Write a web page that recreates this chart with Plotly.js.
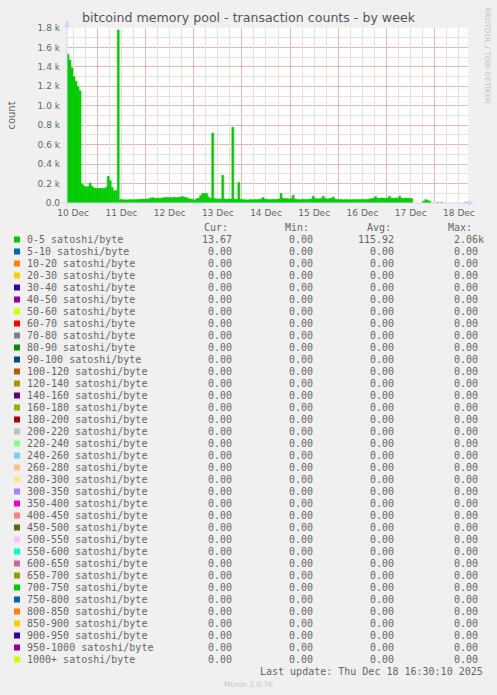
<!DOCTYPE html>
<html>
<head>
<meta charset="utf-8">
<script src="https://cdn.plot.ly/plotly-3.0.1.min.js"></script>
<style>
  html, body { margin: 0; padding: 0; background: #f0f0f0; }
  #chart { width: 497px; height: 695px; }
</style>
</head>
<body>
<div id="chart"></div>
<script>
// hourly averages of the 0-5 satoshi/byte series, starting 10 Dec 09:00 (null = no data)
const startHour = Date.UTC(2025, 11, 10, 9, 0);
const counts = [
  1530, 1470, 1390, 1300, 1250, 1195, 1155, 195, 175, 165,
  170, 205, 170, 155, 150, 150, 152, 150, 150, 160,
  275, 230, 160, 125, 130, 1780, 35, 35, 32, 32,
  33, 35, 33, 34, 36, 35, 38, 40, 40, 40,
  42, 50, 55, 50, 48, 50, 48, 52, 55, 58,
  55, 57, 55, 60, 55, 58, 62, 65, 60, 55,
  45, 40, 38, 25, 45, 50, 75, 97, 100, 95,
  60, 48, 720, 45, 42, 40, 42, 285, 40, 38,
  40, 42, 780, 40, 38, 210, 38, 35, 33, 32,
  33, 35, 33, 35, 34, 36, 40, 55, 40, 36,
  35, 35, 36, 35, 38, 40, 97, 50, 45, 45,
  42, 45, 80, 40, 35, 36, 35, 38, 36, 35,
  38, 40, 70, 45, 45, 42, 48, 70, 45, 42,
  45, 48, 62, 40, 35, 36, 35, 33, 35, 34,
  35, 33, 35, 36, 35, 34, 36, 38, 36, 35,
  40, 45, 48, 65, 50, 48, 52, 50, 48, 50,
  68, 50, 48, 52, 50, 70, 50, 48, 52, 50,
  48, 45, null, null, null, null, null, 20, 35, 25,
  20, null, null, null, 8, null, 8, null, null, null,
  null, null, null, null, null, null, null, null, 8, null
];

const seriesNames = [
  '0-5 satoshi/byte', '5-10 satoshi/byte', '10-20 satoshi/byte', '20-30 satoshi/byte',
  '30-40 satoshi/byte', '40-50 satoshi/byte', '50-60 satoshi/byte', '60-70 satoshi/byte',
  '70-80 satoshi/byte', '80-90 satoshi/byte', '90-100 satoshi/byte', '100-120 satoshi/byte',
  '120-140 satoshi/byte', '140-160 satoshi/byte', '160-180 satoshi/byte', '180-200 satoshi/byte',
  '200-220 satoshi/byte', '220-240 satoshi/byte', '240-260 satoshi/byte', '260-280 satoshi/byte',
  '280-300 satoshi/byte', '300-350 satoshi/byte', '350-400 satoshi/byte', '400-450 satoshi/byte',
  '450-500 satoshi/byte', '500-550 satoshi/byte', '550-600 satoshi/byte', '600-650 satoshi/byte',
  '650-700 satoshi/byte', '700-750 satoshi/byte', '750-800 satoshi/byte', '800-850 satoshi/byte',
  '850-900 satoshi/byte', '900-950 satoshi/byte', '950-1000 satoshi/byte', '1000+ satoshi/byte'
];
const seriesColors = [
  '#00CC00', '#0066B3', '#FF8000', '#FFCC00', '#330099', '#990099', '#CCFF00', '#FF0000',
  '#808080', '#008F00', '#00487D', '#B35A00', '#B38F00', '#6B006B', '#8FB300', '#B30000',
  '#BEBEBE', '#80FF80', '#80C9FF', '#FFC080', '#FFE680', '#AA80FF', '#EE00CC', '#FF8080',
  '#666600', '#FFBFFF', '#00FFCC', '#CC6699', '#999900', '#00CC00', '#0066B3', '#FF8000',
  '#FFCC00', '#330099', '#990099', '#CCFF00'
];
const curVals = [13.67, 0, 0, 0, 0, 0, 0, 0, 0, 0, 0, 0, 0, 0, 0, 0, 0, 0,
                 0, 0, 0, 0, 0, 0, 0, 0, 0, 0, 0, 0, 0, 0, 0, 0, 0, 0];
const minVals = [0, 0, 0, 0, 0, 0, 0, 0, 0, 0, 0, 0, 0, 0, 0, 0, 0, 0,
                 0, 0, 0, 0, 0, 0, 0, 0, 0, 0, 0, 0, 0, 0, 0, 0, 0, 0];
const avgVals = [115.92, 0, 0, 0, 0, 0, 0, 0, 0, 0, 0, 0, 0, 0, 0, 0, 0, 0,
                 0, 0, 0, 0, 0, 0, 0, 0, 0, 0, 0, 0, 0, 0, 0, 0, 0, 0];
const maxVals = [2060, 0, 0, 0, 0, 0, 0, 0, 0, 0, 0, 0, 0, 0, 0, 0, 0, 0,
                 0, 0, 0, 0, 0, 0, 0, 0, 0, 0, 0, 0, 0, 0, 0, 0, 0, 0];

const yTickVals = [0, 200, 400, 600, 800, 1000, 1200, 1400, 1600, 1800];
const yTickText = ['0.0', '0.2 k', '0.4 k', '0.6 k', '0.8 k', '1.0 k', '1.2 k', '1.4 k', '1.6 k', '1.8 k'];

const lastUpdate = 'Last update: Thu Dec 18 16:30:10 2025';

// plot box in page pixels
const PL = 67, PR = 468, PT = 28, PB = 203;
const px = X => (X - PL) / (PR - PL);
const py = Y => (PB - Y) / (PB - PT);

const fmt = v => v >= 1000 ? (v / 1000).toFixed(2) + 'k' : v.toFixed(2);

const xRange = ['2025-12-10 09:00', '2025-12-18 16:30'];
const times = counts.map((_, i) => startHour + i * 3600000);

// grid positions: grey every 6 h / 100, red at midnight / every 200
const xMinor = [];
for (let t = Date.UTC(2025, 11, 10, 12); t < Date.UTC(2025, 11, 18, 17); t += 6 * 3600000) {
  if (new Date(t).getUTCHours() !== 0) xMinor.push(t);
}
const yMinor = yTickVals.slice(0, -1).map(v => v + 100);

const bars = {
  type: 'bar',
  x: times,
  y: counts,
  offset: 0,
  width: 3600000,
  marker: { color: seriesColors[0], line: { color: seriesColors[0], width: 0.5 } },
  hoverinfo: 'skip'
};
// empty trace that carries the grey grid axes
const gridCarrier = { type: 'scatter', x: [], y: [], xaxis: 'x2', yaxis: 'y2', hoverinfo: 'skip' };

const mono = { family: 'DejaVu Sans Mono', size: 10, color: '#666' };
const annotations = [];
const shapes = [];

// legend header
[['Cur:', 203], ['Min:', 284], ['Avg:', 366], ['Max:', 447]].forEach(([t, X]) => {
  annotations.push({ text: t, x: px(X), y: py(227.5), xref: 'paper', yref: 'paper',
    xanchor: 'left', yanchor: 'middle', showarrow: false, font: mono, borderpad: 0 });
});

seriesNames.forEach((name, k) => {
  const Y = 239.5 + 12 * k;
  shapes.push({ type: 'rect', xref: 'paper', yref: 'paper',
    x0: px(14), x1: px(20), y0: py(Y + 3), y1: py(Y - 3),
    fillcolor: seriesColors[k], line: { width: 0 } });
  const row = [
    [name, 26, 'left'],
    [fmt(curVals[k]), 233, 'right'],
    [fmt(minVals[k]), 314, 'right'],
    [fmt(avgVals[k]), 395, 'right'],
    [fmt(maxVals[k]), 453, 'left']
  ];
  row.forEach(([t, X, anchor]) => {
    annotations.push({ text: t, x: px(X), y: py(Y), xref: 'paper', yref: 'paper',
      xanchor: anchor, yanchor: 'middle', showarrow: false, font: mono, borderpad: 0 });
  });
});

annotations.push({ text: lastUpdate, x: px(483.5), y: py(671), xref: 'paper', yref: 'paper',
  xanchor: 'right', yanchor: 'middle', showarrow: false, font: mono, borderpad: 0 });
annotations.push({ text: 'Munin 2.0.76', x: px(248), y: py(684), xref: 'paper', yref: 'paper',
  xanchor: 'center', yanchor: 'middle', showarrow: false, borderpad: 0,
  font: { family: 'DejaVu Sans', size: 7.5, color: '#c4c4c4' } });
annotations.push({ text: 'RRDTOOL / TOBI OETIKER', x: px(487), y: py(55), xref: 'paper', yref: 'paper',
  xanchor: 'center', yanchor: 'middle', showarrow: false, textangle: 90, borderpad: 0,
  font: { family: 'DejaVu Sans', size: 7.5, color: '#c4c4c4' } });

// axes with arrows
const axisColor = '#CFD6F8';
shapes.push({ type: 'line', xref: 'paper', yref: 'paper', x0: px(62), x1: px(469), y0: 0, y1: 0,
  line: { color: axisColor, width: 1 }, layer: 'above' });
shapes.push({ type: 'line', xref: 'paper', yref: 'paper', x0: 0, x1: 0, y0: py(207), y1: py(24),
  line: { color: axisColor, width: 1 }, layer: 'above' });
shapes.push({ type: 'path', xref: 'paper', yref: 'paper', layer: 'above',
  path: `M ${px(468)} ${py(200)} L ${px(474)} ${py(203)} L ${px(468)} ${py(206)} Z`,
  fillcolor: axisColor, line: { width: 0 } });
shapes.push({ type: 'path', xref: 'paper', yref: 'paper', layer: 'above',
  path: `M ${px(64)} ${py(27)} L ${px(67)} ${py(20)} L ${px(70)} ${py(27)} Z`,
  fillcolor: axisColor, line: { width: 0 } });

const majorGrid = '#eeb4b4';
const minorGrid = '#e2e2e2';
const tickFont = { family: 'DejaVu Sans', size: 9, color: '#666' };

const layout = {
  width: 497,
  height: 695,
  paper_bgcolor: '#f0f0f0',
  plot_bgcolor: '#ffffff',
  margin: { l: PL, r: 497 - PR, t: PT, b: 695 - PB, pad: 0 },
  showlegend: false,
  bargap: 0,
  title: {
    text: 'bitcoind memory pool - transaction counts - by week',
    font: { family: 'DejaVu Sans', size: 12.6, color: '#555' },
    xref: 'container', x: 0.5, xanchor: 'center',
    yref: 'container', y: 1 - 18 / 695, yanchor: 'middle'
  },
  xaxis: {
    type: 'date',
    range: xRange,
    tick0: '2025-12-10',
    dtick: 86400000,
    ticklabelmode: 'period',
    tickformat: '%d %b',
    tickfont: tickFont,
    ticks: '',
    ticklabelstandoff: 3,
    showgrid: true,
    gridcolor: majorGrid,
    gridwidth: 1,
    zeroline: false,
    showline: false,
    fixedrange: true
  },
  yaxis: {
    range: [0, 1800],
    tickmode: 'array',
    tickvals: yTickVals,
    ticktext: yTickText,
    tickfont: tickFont,
    ticks: '',
    ticklabelstandoff: 6,
    showgrid: true,
    gridcolor: majorGrid,
    gridwidth: 1,
    zeroline: false,
    showline: false,
    fixedrange: true,
    title: { text: 'count', font: { family: 'DejaVu Sans', size: 10, color: '#666' }, standoff: 20 }
  },
  xaxis2: {
    type: 'date',
    overlaying: 'x',
    range: xRange,
    tickmode: 'array',
    tickvals: xMinor,
    showticklabels: false,
    ticks: '',
    showgrid: true,
    gridcolor: minorGrid,
    gridwidth: 1,
    zeroline: false,
    showline: false,
    fixedrange: true
  },
  yaxis2: {
    overlaying: 'y',
    range: [0, 1800],
    tickmode: 'array',
    tickvals: yMinor,
    showticklabels: false,
    ticks: '',
    showgrid: true,
    gridcolor: minorGrid,
    gridwidth: 1,
    zeroline: false,
    showline: false,
    fixedrange: true
  },
  annotations: annotations,
  shapes: shapes
};

Plotly.newPlot('chart', [gridCarrier, bars], layout, { displayModeBar: false, staticPlot: true });
</script>
</body>
</html>
